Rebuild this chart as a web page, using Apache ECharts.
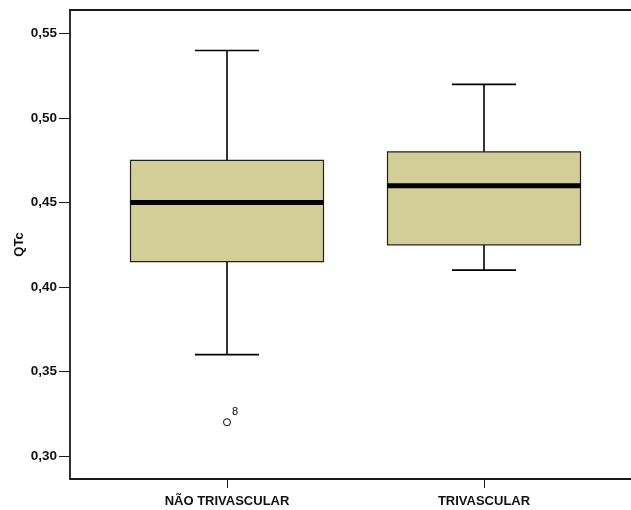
<!DOCTYPE html>
<html>
<head>
<meta charset="utf-8">
<script src="https://cdn.jsdelivr.net/npm/echarts@6/dist/echarts.min.js"></script>
<style>html,body{margin:0;padding:0;background:#fff}#c{width:631px;height:510px}</style>
</head>
<body>
<div id="c"></div>
<script>
// Data
const categories = ['NÃO TRIVASCULAR', 'TRIVASCULAR'];
const categoryPositions = [1, 2];
const whiskerMin = [0.36, 0.41];
const quartile1 = [0.415, 0.425];
const medians = [0.45, 0.46];
const quartile3 = [0.475, 0.48];
const whiskerMax = [0.54, 0.52];
const outlierValues = [[1, 0.32, '8']];
const yTicks = [0.30, 0.35, 0.40, 0.45, 0.50, 0.55];

const boxData = categoryPositions.map((x, i) => [x, whiskerMin[i], quartile1[i], medians[i], quartile3[i], whiskerMax[i]]);

const FONT = "'Liberation Sans', Arial, sans-serif";
const chart = echarts.init(document.getElementById('c'), null, {renderer: 'canvas'});

function renderBox(params, api) {
  const x = api.value(0);
  const pMin = api.coord([x, api.value(1)]);
  const pQ1 = api.coord([x, api.value(2)]);
  const pMed = api.coord([x, api.value(3)]);
  const pQ3 = api.coord([x, api.value(4)]);
  const pMax = api.coord([x, api.value(5)]);
  const halfBox = api.size([0.751, 0])[0] / 2;
  const halfCap = api.size([0.249, 0])[0] / 2;
  const cx = pMed[0];
  const lineStyle = {stroke: '#000', lineWidth: 1.6};
  return {
    type: 'group',
    children: [
      {type: 'line', shape: {x1: cx, y1: pQ3[1], x2: cx, y2: pMax[1]}, style: lineStyle},
      {type: 'line', shape: {x1: cx - halfCap, y1: pMax[1], x2: cx + halfCap, y2: pMax[1]}, style: lineStyle},
      {type: 'line', shape: {x1: cx, y1: pMin[1], x2: cx, y2: pQ1[1]}, style: lineStyle},
      {type: 'line', shape: {x1: cx - halfCap, y1: pMin[1], x2: cx + halfCap, y2: pMin[1]}, style: lineStyle},
      {type: 'rect', shape: {x: cx - halfBox, y: pQ3[1], width: halfBox * 2, height: pQ1[1] - pQ3[1]},
        style: {fill: '#d3ce97', stroke: '#222', lineWidth: 1.2}},
      {type: 'line', shape: {x1: cx - halfBox, y1: pMed[1], x2: cx + halfBox, y2: pMed[1]},
        style: {stroke: '#000', lineWidth: 5}}
    ]
  };
}

const X_MIN = 0.3891, X_MAX = 2.5720;

chart.setOption({
  animation: false,
  backgroundColor: '#fff',
  grid: {left: 70, right: 0, top: 10, bottom: 31, show: false},
  xAxis: [{
    type: 'value',
    min: X_MIN,
    max: X_MAX,
    splitLine: {show: false},
    axisLine: {show: true, onZero: false, lineStyle: {color: '#1a1a1a', width: 1.8}},
    axisTick: {show: true, customValues: categoryPositions, length: 9, lineStyle: {color: '#1a1a1a', width: 1}},
    axisLabel: {
      customValues: categoryPositions,
      formatter: v => categories[Math.round(v) - 1] || '',
      color: '#111', fontFamily: FONT, fontWeight: 'bold', fontSize: 13, margin: 16
    }
  }, {
    type: 'value',
    position: 'top',
    min: X_MIN,
    max: X_MAX,
    splitLine: {show: false},
    axisLine: {show: true, onZero: false, lineStyle: {color: '#1a1a1a', width: 1.8}},
    axisTick: {show: false},
    axisLabel: {show: false}
  }],
  yAxis: {
    type: 'value',
    min: 0.28638,
    max: 0.5640,
    name: 'QTc',
    nameLocation: 'middle',
    nameGap: 44,
    nameMoveOverlap: false,
    nameTextStyle: {color: '#111', fontFamily: FONT, fontWeight: 'bold', fontSize: 13},
    splitLine: {show: false},
    axisLine: {show: true, onZero: false, lineStyle: {color: '#1a1a1a', width: 1.8}},
    axisTick: {show: true, customValues: yTicks, length: 11, lineStyle: {color: '#1a1a1a', width: 1}},
    axisLabel: {
      customValues: yTicks,
      formatter: v => v.toFixed(2).replace('.', ','),
      color: '#111', fontFamily: FONT, fontWeight: 'bold', fontSize: 13.5, margin: 13
    }
  },
  series: [
    {
      type: 'custom',
      renderItem: renderBox,
      data: boxData,
      encode: {x: 0, y: [1, 2, 3, 4, 5]},
      clip: false
    },
    {
      type: 'scatter',
      data: outlierValues,
      symbol: 'circle',
      symbolSize: 7,
      itemStyle: {color: '#fff', borderColor: '#000', borderWidth: 1, opacity: 1},
      label: {
        show: true,
        formatter: p => p.data[2],
        position: [9, -12],
        color: '#000', fontFamily: FONT, fontSize: 11
      }
    }
  ]
});
</script>
</body>
</html>
